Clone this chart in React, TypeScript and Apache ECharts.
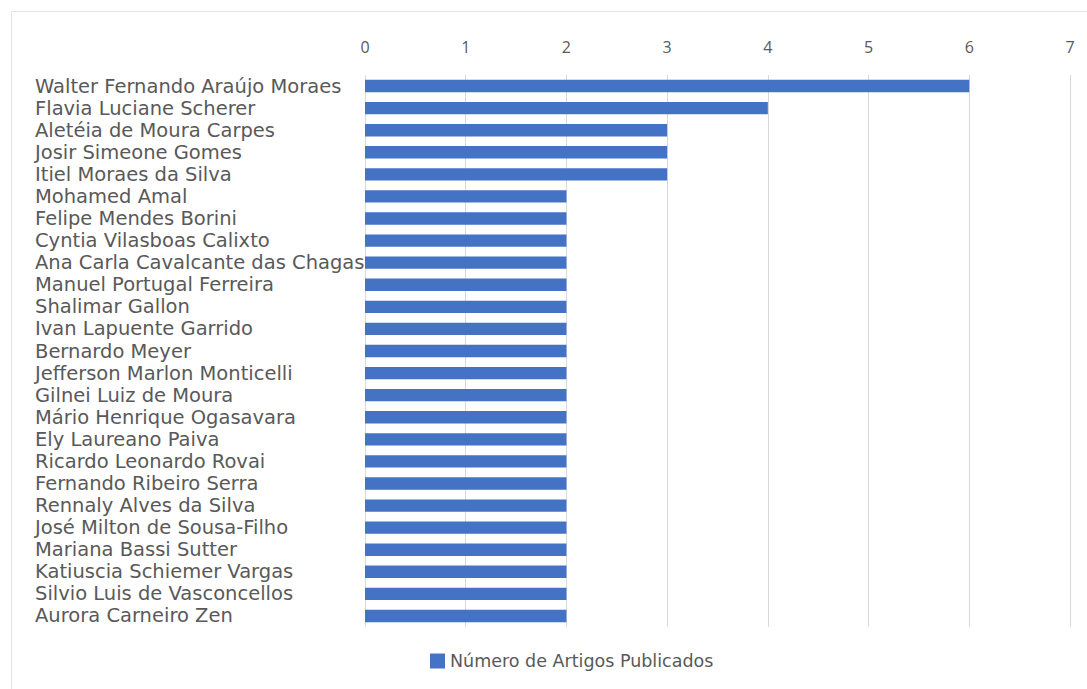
import React, { useEffect, useRef } from "react";
import * as echarts from "echarts";

const authors = [
  "Walter Fernando Araújo Moraes",
  "Flavia Luciane Scherer",
  "Aletéia de Moura Carpes",
  "Josir Simeone Gomes",
  "Itiel Moraes da Silva",
  "Mohamed Amal",
  "Felipe Mendes Borini",
  "Cyntia Vilasboas Calixto",
  "Ana Carla Cavalcante das Chagas",
  "Manuel Portugal Ferreira",
  "Shalimar Gallon",
  "Ivan Lapuente Garrido",
  "Bernardo Meyer",
  "Jefferson Marlon Monticelli",
  "Gilnei Luiz de Moura",
  "Mário Henrique Ogasavara",
  "Ely Laureano Paiva",
  "Ricardo Leonardo Rovai",
  "Fernando Ribeiro Serra",
  "Rennaly Alves da Silva",
  "José Milton de Sousa-Filho",
  "Mariana Bassi Sutter",
  "Katiuscia Schiemer Vargas",
  "Silvio Luis de Vasconcellos",
  "Aurora Carneiro Zen",
];

const articles = [6, 4, 3, 3, 3, 2, 2, 2, 2, 2, 2, 2, 2, 2, 2, 2, 2, 2, 2, 2, 2, 2, 2, 2, 2];

const seriesName = "Número de Artigos Publicados";

export default function App() {
  const ref = useRef<HTMLDivElement>(null);
  useEffect(() => {
    document.body.style.margin = "0";
    const chart = echarts.init(ref.current!, null, { renderer: "svg" });
    chart.setOption({
      animation: false,
      backgroundColor: "#ffffff",
      textStyle: { fontFamily: "DejaVu Sans" },
      graphic: [
        {
          type: "rect",
          shape: { x: 11.5, y: 11.5, width: 1100, height: 700 },
          style: { fill: "none", stroke: "#e3e3e3", lineWidth: 1 },
          silent: true,
        },
      ],
      grid: { left: 365, right: 17, top: 75, bottom: 62, containLabel: false },
      legend: {
        bottom: 14,
        left: 425,
        itemWidth: 15,
        itemHeight: 15,
        itemGap: 5,
        icon: "rect",
        textStyle: { fontSize: 17.5, color: "#595959", fontFamily: "DejaVu Sans" },
        data: [seriesName],
      },
      xAxis: {
        type: "value",
        position: "top",
        min: 0,
        max: 7,
        interval: 1,
        axisLine: { show: false },
        axisTick: { show: false },
        axisLabel: { color: "#595959", fontSize: 16, margin: 20, fontFamily: "Open Sans" },
        splitLine: { lineStyle: { color: "#d9d9d9", width: 1 } },
      },
      yAxis: {
        type: "category",
        inverse: true,
        data: authors,
        axisLine: { show: false },
        axisTick: { show: false },
        axisLabel: {
          color: "#595959",
          fontSize: 19.5,
          align: "left",
          margin: 330,
          interval: 0,
        },
        splitLine: { show: false },
      },
      series: [
        {
          name: seriesName,
          type: "bar",
          data: articles,
          barWidth: "56%",
          itemStyle: { color: "#4472c4" },
        },
      ],
    });
    return () => chart.dispose();
  }, []);
  return <div ref={ref} style={{ width: 1087, height: 689 }} />;
}
